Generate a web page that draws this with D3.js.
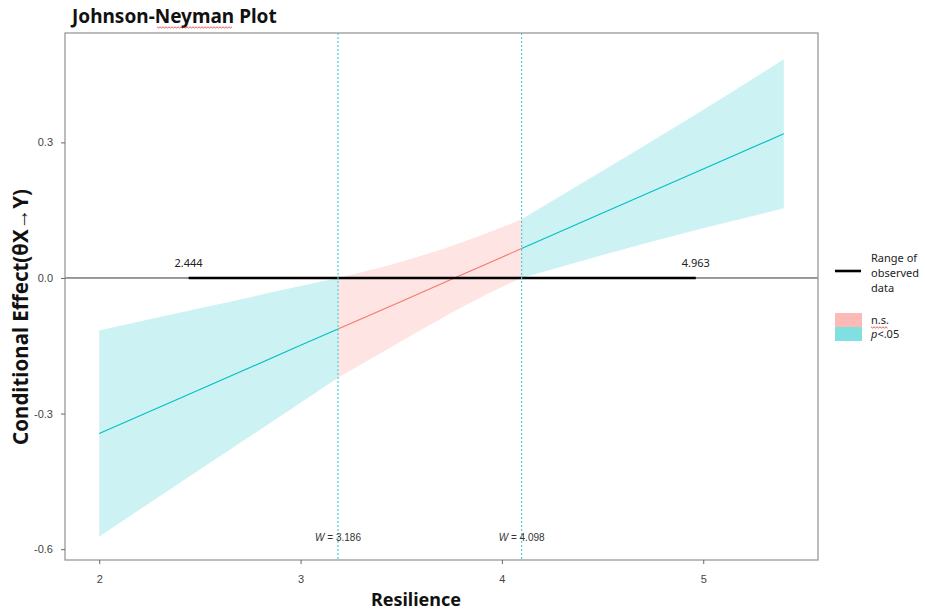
<!DOCTYPE html>
<html>
<head>
<meta charset="utf-8">
<style>
	body { margin: 0; background: #fff; }
	svg { position: absolute; top: 0px; left: 0px; font-family: "Noto Sans", "Open Sans", sans-serif; }
	.tick text { fill: #444; font-size: 11px; }
	.axisTitle { font-weight: bold; font-size: 18px; fill: #111; }
</style>
<script src="https://cdnjs.cloudflare.com/ajax/libs/d3/7.8.5/d3.min.js"></script>
</head>
<body>
<svg width="925" height="613"></svg>
<script>
// values
var xs       = [2, 2.5, 3, 3.186, 3.5, 3.75, 4, 4.098, 4.5, 5, 5.4];
var estimate = [-0.344, -0.247, -0.149, -0.113, -0.052, -0.003, 0.046, 0.065, 0.144, 0.241, 0.319];
var lower    = [-0.572, -0.424, -0.276, -0.221, -0.140, -0.077, -0.020, 0.000, 0.051, 0.110, 0.154];
var upper    = [-0.116, -0.067, -0.018, 0.000, 0.036, 0.071, 0.112, 0.130, 0.237, 0.372, 0.484];
var jnPoints = [3.186, 4.098];
var observed = [2.444, 4.963];
var xTicks = [2, 3, 4, 5];
var yTicks = [0.3, 0.0, -0.3, -0.6];

var svg = d3.select("svg"),
	pLeft = 65, pRight = 818, pTop = 33, pBottom = 560;

var x = d3.scaleLinear().domain([1.83, 5.57]).range([pLeft, pRight]);
var y = d3.scaleLinear().domain([-0.624, 0.542]).range([pBottom, pTop]);

var rows = xs.map(function(d, i) { return {x: d, est: estimate[i], lo: lower[i], hi: upper[i]}; });

// split into significance regions at the J-N points
var regions = [
	{sig: true,  data: rows.filter(function(d) { return d.x <= jnPoints[0]; })},
	{sig: false, data: rows.filter(function(d) { return d.x >= jnPoints[0] && d.x <= jnPoints[1]; })},
	{sig: true,  data: rows.filter(function(d) { return d.x >= jnPoints[1]; })}
];

var teal = "#00BFC4", pink = "#F8766D";

var area = d3.area()
	.x(function(d) { return x(d.x); })
	.y0(function(d) { return y(d.lo); })
	.y1(function(d) { return y(d.hi); })
	.curve(d3.curveMonotoneX);
var line = d3.line()
	.x(function(d) { return x(d.x); })
	.y(function(d) { return y(d.est); });

var g = svg.append("g");

g.selectAll(".ribbon").data(regions).enter()
	.append("path").attr("class", "ribbon")
	.attr("d", function(d) { return area(d.data); })
	.attr("fill", function(d) { return d.sig ? teal : pink; })
	.attr("fill-opacity", 0.2);

g.selectAll(".est").data(regions).enter()
	.append("path").attr("class", "est")
	.attr("d", function(d) { return line(d.data); })
	.attr("fill", "none")
	.attr("stroke", function(d) { return d.sig ? teal : pink; })
	.attr("stroke-width", 1.1);

// zero line
g.append("line")
	.attr("x1", pLeft).attr("x2", pRight)
	.attr("y1", y(0)).attr("y2", y(0))
	.attr("stroke", "#333").attr("stroke-width", 1);

// range of observed data
g.append("line")
	.attr("x1", x(observed[0])).attr("x2", x(observed[1]))
	.attr("y1", y(0)).attr("y2", y(0))
	.attr("stroke", "#000").attr("stroke-width", 2.6);

g.selectAll(".obsLabel").data(observed).enter()
	.append("text").attr("class", "obsLabel")
	.attr("x", function(d) { return x(d); })
	.attr("y", y(0) - 11)
	.attr("text-anchor", "middle")
	.attr("font-size", 11).attr("fill", "#222")
	.text(function(d) { return d3.format(".3f")(d); });

// J-N lines
g.selectAll(".jn").data(jnPoints).enter()
	.append("line").attr("class", "jn")
	.attr("x1", function(d) { return x(d); }).attr("x2", function(d) { return x(d); })
	.attr("y1", pTop).attr("y2", pBottom)
	.attr("stroke", "#3FCBDA").attr("stroke-width", 1.1)
	.attr("stroke-dasharray", "2,2");

var jnLabel = g.selectAll(".jnLabel").data(jnPoints).enter()
	.append("text").attr("class", "jnLabel")
	.attr("x", function(d) { return x(d); })
	.attr("y", 541)
	.attr("text-anchor", "middle")
	.attr("font-family", "Liberation Sans, Arial, sans-serif")
	.attr("font-size", 10).attr("fill", "#333");
jnLabel.append("tspan").attr("font-style", "italic").text("W");
jnLabel.append("tspan").text(function(d) { return " = " + d3.format(".3f")(d); });

// panel border
svg.append("rect")
	.attr("x", pLeft).attr("y", pTop)
	.attr("width", pRight - pLeft).attr("height", pBottom - pTop)
	.attr("fill", "none").attr("stroke", "#999").attr("stroke-width", 1.3);

// axes
var yAxis = svg.append("g")
	.attr("transform", "translate(" + pLeft + ",0)")
	.call(d3.axisLeft(y).tickValues(yTicks)
		.tickFormat(function(d) { return d3.format(".1f")(d).replace("−", "-"); })
		.tickSize(4).tickPadding(8));
var xAxis = svg.append("g")
	.attr("transform", "translate(0," + pBottom + ")")
	.call(d3.axisBottom(x).tickValues(xTicks).tickFormat(d3.format("d")).tickSize(4).tickPadding(11));
[xAxis, yAxis].forEach(function(a) {
	a.select(".domain").remove();
	a.selectAll(".tick line").attr("stroke", "#666");
});

svg.append("text").attr("class", "axisTitle")
	.attr("x", 416).attr("y", 606)
	.attr("text-anchor", "middle")
	.text("Resilience");

svg.append("text").attr("class", "axisTitle")
	.attr("transform", "translate(28,317) rotate(-90)")
	.attr("text-anchor", "middle")
	.style("font-size", "20.5px")
	.text("Conditional Effect(θX→Y)");

// title
svg.append("text")
	.attr("x", 72).attr("y", 23)
	.attr("font-weight", "bold").attr("font-size", 19).attr("fill", "#111")
	.text("Johnson-Neyman Plot");

// spell-check squiggles seen in the picture
function squiggle(x0, x1, yy) {
	var pts = d3.range(x0, x1 + 0.1, 1.5).map(function(v, i) { return [v, yy + (i % 2 ? 1 : -0.2)]; });
	svg.append("path").attr("d", d3.line()(pts))
		.attr("fill", "none").attr("stroke", "#E03030").attr("stroke-width", 0.8);
}
squiggle(157, 232, 27);

// legend
var lg = svg.append("g").attr("transform", "translate(835,0)");
lg.append("line").attr("x1", 0).attr("x2", 26).attr("y1", 271).attr("y2", 271)
	.attr("stroke", "#000").attr("stroke-width", 2.6);
lg.selectAll(".lgText").data(["Range of", "observed", "data"]).enter()
	.append("text")
	.attr("x", 36).attr("y", function(d, i) { return 262 + i * 15; })
	.attr("font-size", 11).attr("fill", "#222")
	.text(function(d) { return d; });

var keys = [{label: "n.s.", c: pink}, {label: "p<.05", c: teal}];
lg.selectAll(".key").data(keys).enter()
	.append("rect")
	.attr("x", 0).attr("y", function(d, i) { return 313 + i * 14; })
	.attr("width", 27).attr("height", 14)
	.attr("fill", function(d) { return d.c; }).attr("fill-opacity", 0.5);
lg.append("text").attr("x", 36).attr("y", 324).attr("font-size", 11).attr("fill", "#222").text("n.s.");
var pt = lg.append("text").attr("x", 36).attr("y", 338).attr("font-size", 11).attr("fill", "#222");
pt.append("tspan").attr("font-style", "italic").text("p");
pt.append("tspan").text("<.05");
squiggle(871, 888, 327);
</script>
</body>
</html>
